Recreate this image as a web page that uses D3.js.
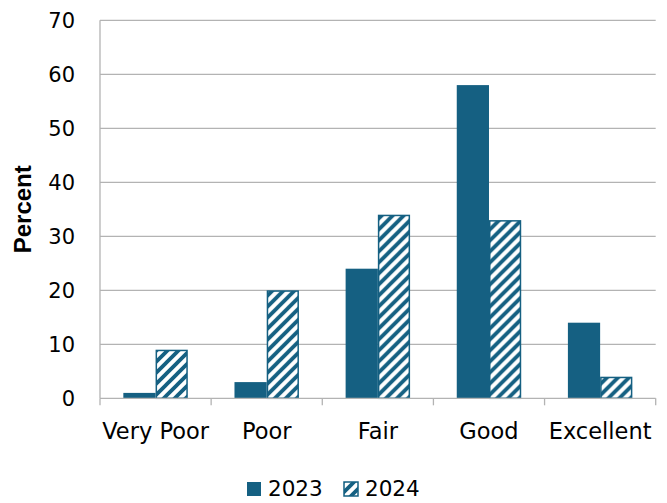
<!DOCTYPE html>
<html>
<head>
<meta charset="utf-8">
<script src="https://cdn.jsdelivr.net/npm/d3@7"></script>
<style>
  html, body { margin: 0; padding: 0; background: #ffffff; }
  svg { display: block; }
</style>
</head>
<body>
<svg id="chart" width="667" height="503"></svg>
<script>
const categories = ["Very Poor", "Poor", "Fair", "Good", "Excellent"];
const seriesNames = ["2023", "2024"];
const values2023 = [1, 3, 24, 58, 14];
const values2024 = [9, 20, 34, 33, 4];
const yTicks = [0, 10, 20, 30, 40, 50, 60, 70];
const yTitle = "Percent";

const color = "#156082";
const gridColor = "#b3b3b3";
const fontFamily = "'DejaVu Sans', sans-serif";

const svg = d3.select("#chart");
const plotLeft = 100, plotRight = 655.7, plotTop = 20.3, plotBottom = 398.3;

const defs = svg.append("defs");
const pat = defs.append("pattern")
  .attr("id", "hatch")
  .attr("patternUnits", "userSpaceOnUse")
  .attr("width", 11).attr("height", 11);
pat.append("rect").attr("width", 11).attr("height", 11).attr("fill", "#ffffff");
pat.append("path")
  .attr("d", "M-2,13 L13,-2 M-5.5,5.5 L5.5,-5.5 M5.5,16.5 L16.5,5.5")
  .attr("stroke", color).attr("stroke-width", 3.8);

const x0 = d3.scaleBand().domain(categories).range([plotLeft, plotRight]).padding(0);
const bw = x0.bandwidth();
const x1 = d3.scaleBand().domain(seriesNames).range([bw * 0.21, bw * 0.79]).padding(0);
const y = d3.scaleLinear().domain([0, 70]).range([plotBottom, plotTop]);

// gridlines
svg.append("g").selectAll("line")
  .data(yTicks.filter(d => d > 0))
  .join("line")
  .attr("x1", plotLeft).attr("x2", plotRight)
  .attr("y1", d => y(d)).attr("y2", d => y(d))
  .attr("stroke", gridColor).attr("stroke-width", 1.3);

// y axis line
svg.append("line")
  .attr("x1", plotLeft).attr("x2", plotLeft)
  .attr("y1", y(70)).attr("y2", y(0))
  .attr("stroke", gridColor).attr("stroke-width", 1.3);

// y tick labels
svg.append("g").selectAll("text")
  .data(yTicks)
  .join("text")
  .attr("x", 75)
  .attr("y", d => y(d))
  .attr("dy", "0.36em")
  .attr("text-anchor", "end")
  .attr("font-family", fontFamily)
  .attr("font-size", 21)
  .attr("fill", "#000")
  .text(d => d);

// y title
svg.append("text")
  .attr("transform", `translate(31,${(plotTop + plotBottom) / 2}) rotate(-90)`)
  .attr("text-anchor", "middle")
  .attr("font-family", "'Liberation Sans', Arial, sans-serif")
  .attr("font-weight", "bold")
  .attr("font-size", 24)
  .attr("fill", "#000")
  .text(yTitle);

const data = categories.map((c, i) => ({ cat: c, vals: [
  { s: "2023", v: values2023[i] },
  { s: "2024", v: values2024[i] }
]}));

const groups = svg.append("g").selectAll("g")
  .data(data)
  .join("g")
  .attr("transform", d => `translate(${x0(d.cat)},0)`);

groups.selectAll("rect")
  .data(d => d.vals)
  .join("rect")
  .attr("x", d => x1(d.s) + (d.s === "2024" ? 0.75 : 0))
  .attr("y", d => y(d.v) + (d.s === "2024" ? 0.75 : 0))
  .attr("width", d => x1.bandwidth() - (d.s === "2024" ? 1.5 : 0))
  .attr("height", d => y(0) - y(d.v) - (d.s === "2024" ? 0.75 : 0))
  .attr("fill", d => d.s === "2023" ? color : "url(#hatch)")
  .attr("stroke", d => d.s === "2023" ? "none" : color)
  .attr("stroke-width", 1.5);

// x axis line and ticks
svg.append("line")
  .attr("x1", plotLeft).attr("x2", plotRight)
  .attr("y1", plotBottom).attr("y2", plotBottom)
  .attr("stroke", gridColor).attr("stroke-width", 1.3);

const boundaries = categories.map(c => x0(c)).concat([plotRight]);
svg.append("g").selectAll("line")
  .data(boundaries)
  .join("line")
  .attr("x1", d => d).attr("x2", d => d)
  .attr("y1", plotBottom).attr("y2", plotBottom + 7)
  .attr("stroke", gridColor).attr("stroke-width", 1.3);

// category labels
svg.append("g").selectAll("text")
  .data(categories)
  .join("text")
  .attr("x", d => x0(d) + bw / 2)
  .attr("y", 439)
  .attr("text-anchor", "middle")
  .attr("font-family", fontFamily)
  .attr("font-size", 22.5)
  .attr("fill", "#000")
  .text(d => d);

// legend
const legend = svg.append("g");
const legendItems = [
  { name: seriesNames[0], x: 247, fill: color, stroke: "none" },
  { name: seriesNames[1], x: 344, fill: "url(#hatch)", stroke: color }
];
legendItems.forEach(it => {
  legend.append("rect")
    .attr("x", it.x).attr("y", 482)
    .attr("width", 14).attr("height", 14)
    .attr("fill", it.fill)
    .attr("stroke", it.stroke)
    .attr("stroke-width", 1.5);
  legend.append("text")
    .attr("x", it.x + 21).attr("y", 496)
    .attr("font-family", fontFamily)
    .attr("font-size", 21.5)
    .attr("fill", "#000")
    .text(it.name);
});
</script>
</body>
</html>
